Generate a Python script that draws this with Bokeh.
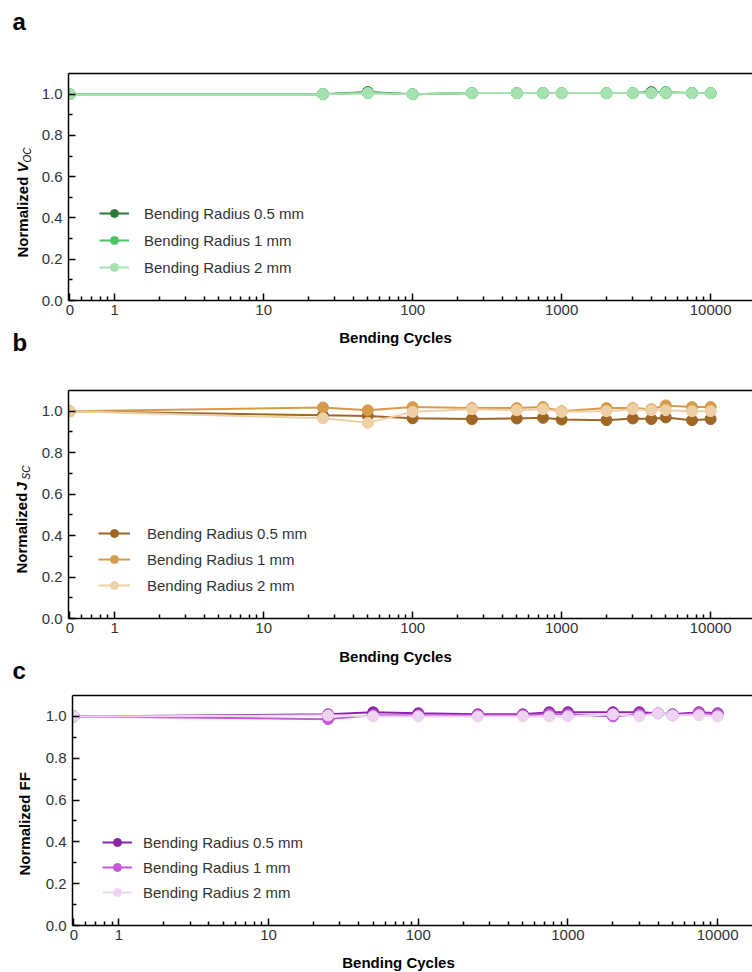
import numpy as np
from bokeh.plotting import figure
from bokeh.models import (LogAxis, FixedTicker, Label, Legend, LegendItem, Range1d,
                          CustomJSTickFormatter, PrintfTickFormatter)
from bokeh.layouts import column, row
from bokeh.embed import file_html
from bokeh.resources import INLINE

# ---------------- data ----------------
cycles = [0, 25, 50, 100, 250, 500, 750, 1000, 2000, 3000, 4000, 5000, 7500, 10000]
series_names = ["Bending Radius 0.5 mm", "Bending Radius 1 mm", "Bending Radius 2 mm"]

voc_05 = [1.0, 1.0, 1.01, 1.0, 1.005, 1.005, 1.005, 1.005, 1.005, 1.005, 1.01, 1.005, 1.005, 1.005]
voc_1 = [1.0, 1.0, 1.005, 1.0, 1.005, 1.005, 1.005, 1.005, 1.005, 1.005, 1.005, 1.01, 1.005, 1.005]
voc_2 = [1.0, 1.0, 1.005, 1.0, 1.005, 1.005, 1.005, 1.005, 1.005, 1.005, 1.005, 1.005, 1.005, 1.005]

jsc_05 = [1.0, 0.98, 0.977, 0.966, 0.962, 0.965, 0.968, 0.96, 0.957, 0.965, 0.962, 0.97, 0.957, 0.962]
jsc_1 = [1.0, 1.018, 1.005, 1.02, 1.015, 1.015, 1.02, 1.0, 1.015, 1.015, 1.01, 1.028, 1.02, 1.02]
jsc_2 = [1.0, 0.966, 0.944, 0.997, 1.01, 1.005, 1.01, 0.997, 1.0, 1.01, 1.005, 1.005, 1.0, 1.0]

ff_05 = [1.0, 1.01, 1.02, 1.015, 1.01, 1.01, 1.02, 1.02, 1.02, 1.02, 1.015, 1.01, 1.02, 1.015]
ff_1 = [1.0, 0.987, 1.005, 1.005, 1.005, 1.005, 1.01, 1.01, 1.0, 1.01, 1.015, 1.005, 1.015, 1.01]
ff_2 = [1.0, 1.005, 1.0, 1.0, 1.0, 1.0, 1.0, 1.0, 1.01, 1.0, 1.015, 1.005, 1.005, 1.0]

x_tick_values = [0.5, 1, 10, 100, 1000, 10000]
x_tick_labels = ["0", "1", "10", "100", "1000", "10000"]
y_tick_values = [0.0, 0.2, 0.4, 0.6, 0.8, 1.0]

green = ["#2b7a37", "#4cc463", "#a6e1b0"]
brown = ["#a06626", "#d69a4b", "#eed0a6"]
purple = ["#8a25a6", "#c45bd6", "#edd4f2"]

FONT = "Liberation Sans"
ZERO_POS = 0.5  # where cycle 0 sits on the log axis

x_minor = [0.6, 0.7, 0.8, 0.9] + [k * 10 ** d for d in range(0, 4) for k in range(2, 10)]

LEFT_W = 36
TOTAL_W = 752


def make_panel(ys, colors, height, b_top, b_bottom, b_left, x_end, legend_loc, spacing, glyph_w, standoff):
    p = figure(width=TOTAL_W - LEFT_W, height=height, x_axis_type="log",
               x_range=Range1d(0.49, x_end), y_range=Range1d(0, 1.1),
               output_backend="svg", toolbar_location=None,
               min_border_left=b_left, min_border_right=0,
               min_border_top=b_top, min_border_bottom=b_bottom)
    p.outline_line_color = None
    p.grid.visible = False

    xs = [ZERO_POS if c == 0 else c for c in cycles]
    items = []
    for y, col, name in zip(ys, colors, series_names):
        lr = p.line(xs, y, line_color=col, line_width=2)
        sr = p.scatter(xs, y, size=11, fill_color=col, line_color=col, line_width=1)
        items.append(LegendItem(label=name, renderers=[lr, sr]))

    leg = Legend(items=items, location=legend_loc, border_line_color=None,
                 background_fill_alpha=0, padding=0, margin=0, spacing=spacing,
                 glyph_width=glyph_w, glyph_height=20, label_height=20,
                 label_standoff=standoff, label_text_font=FONT,
                 label_text_font_size="15px", label_text_color="#333333")
    p.add_layout(leg)

    xa = p.xaxis[0]
    xa.ticker = FixedTicker(ticks=x_tick_values, minor_ticks=x_minor)
    xa.formatter = CustomJSTickFormatter(args=dict(tv=x_tick_values, tl=x_tick_labels), code="""
        for (let i = 0; i < tv.length; i++) { if (Math.abs(tv[i] - tick) < 1e-9) return tl[i]; }
        return "";
    """)
    ya = p.yaxis[0]
    ya.ticker = FixedTicker(ticks=y_tick_values, minor_ticks=[0.1, 0.3, 0.5, 0.7, 0.9])
    ya.formatter = PrintfTickFormatter(format="%.1f")
    for ax in (xa, ya):
        ax.axis_line_width = 1.5
        ax.axis_line_color = "black"
        ax.major_tick_in = 7
        ax.major_tick_out = 0
        ax.minor_tick_in = 4
        ax.minor_tick_out = 0
        ax.major_tick_line_width = 1.5
        ax.minor_tick_line_width = 1.5
        ax.major_label_text_font = FONT
        ax.major_label_text_font_size = "15px"
        ax.major_label_text_color = "#333333"
    xa.major_label_standoff = 4
    ya.major_label_standoff = 6

    top = LogAxis(ticker=FixedTicker(ticks=[]), axis_line_width=1.5, axis_line_color="black",
                  major_label_text_font_size="0px", major_tick_in=0, major_tick_out=0,
                  minor_tick_in=0, minor_tick_out=0)
    p.add_layout(top, "above")
    return p


def holder(width, height):
    h = figure(width=width, height=height, x_range=Range1d(0, 1), y_range=Range1d(0, 1),
               output_backend="svg", toolbar_location=None,
               min_border_left=0, min_border_right=0, min_border_top=0, min_border_bottom=0,
               x_axis_location=None, y_axis_location=None)
    h.outline_line_color = None
    h.grid.visible = False
    return h


def lab(p, text, x, y, size="15px", style="bold", angle=0.0, align="left", color="black"):
    p.add_layout(Label(x=x, y=y, x_units="screen", y_units="screen", text=text,
                       text_font=FONT, text_font_size=size, text_font_style=style,
                       text_color=color, angle=angle, text_align=align, text_baseline="middle"))


R = np.pi / 2

# ---- top strip with panel letter a (page y 0..40) ----
st = holder(TOTAL_W, 40)
lab(st, "a", 12, 19, size="24px")

# ---- panel a (page y 40..323, frame 73..300) ----
pa = make_panel([voc_05, voc_1, voc_2], green, 283, 33, 23, 32, 19100, (31, 23), 7, 30, 15)
la = holder(LEFT_W, 283)
lab(la, "Normalized", 22, 43, angle=R)
lab(la, "V", 22, 128, style="bold italic", angle=R)
lab(la, "OC", 27, 138, size="10px", style="italic", angle=R)
sa = holder(TOTAL_W, 35)
lab(sa, "Bending Cycles", 395, 21, align="center")
lab(sa, "b", 12, 16, size="24px")

# ---- panel b (page y 358..641, frame 390..618) ----
pb = make_panel([jsc_05, jsc_1, jsc_2], brown, 283, 32, 23, 32, 19100, (30, 23), 6, 32, 17)
lb = holder(LEFT_W, 283)
lab(lb, "Normalized", 21, 45, angle=R)
lab(lb, "J", 21, 128, style="bold italic", angle=R)
lab(lb, "SC", 26, 139, size="10px", style="italic", angle=R)
sb = holder(TOTAL_W, 46)
lab(sb, "Bending Cycles", 395, 31, align="center")
lab(sb, "c", 12, 17, size="24px")

# ---- panel c (page y 687..948, frame 695..925) ----
pc = make_panel([ff_05, ff_1, ff_2], purple, 261, 8, 23, 36, 17100, (30, 23), 5, 30, 11)
lc = holder(LEFT_W, 261)
lab(lc, "Normalized FF", 24, 50, angle=R)
sc = holder(TOTAL_W, 23)
lab(sc, "Bending Cycles", 398, 9, align="center")

layout = column(st, row(la, pa), sa, row(lb, pb), sb, row(lc, pc), sc, spacing=0)
open("out.html", "w").write(file_html(layout, INLINE))
